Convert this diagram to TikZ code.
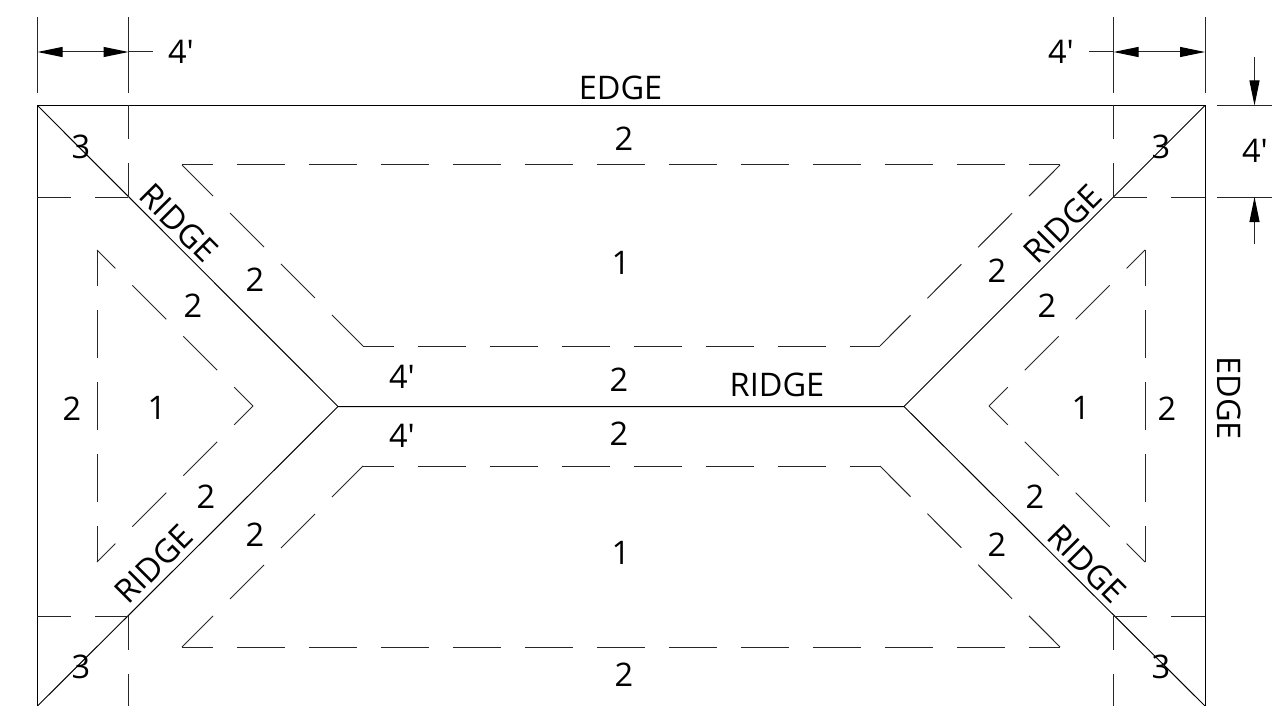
\documentclass[tikz,border=0pt]{standalone}
\usepackage{fontspec}
\newfontfamily\plainsans{Open Sans}
\usetikzlibrary{arrows.meta}
\tikzstyle{edgeline} = [line width=1pt, black]
\tikzset{dashline/.style={line width=1pt, black!85, dash pattern=on 48pt off 24pt, dash phase=#1}}
\tikzstyle{dimline} = [line width=1pt, black!85]
\tikzstyle{dimarrow} = [dimline, {Triangle[length=25pt,width=10pt,black]}-{Triangle[length=25pt,width=10pt,black]}]
\tikzstyle{tailarrow} = [dimline, -{Triangle[length=25pt,width=10pt,black]}]
\tikzstyle{txt} = [inner sep=0pt, font=\plainsans\fontsize{32.5}{36}\selectfont]

\begin{document}
\begin{tikzpicture}[x=1pt, y=-1pt]
    \useasboundingbox (0,0) rectangle (1272,706);
    % Corners of the roof
    \coordinate (tl) at (37.5,105.5);
    \coordinate (tr) at (1205,105.5);
    \coordinate (bl) at (37.5,706);
    \coordinate (br) at (1205,706);
    \coordinate (rl) at (338,406.5);
    \coordinate (rr) at (904,406.5);

    % Solid lines
    \draw [edgeline] (bl) -- (tl) -- (tr) -- (br);
    \draw [edgeline] (tl) -- (rl) -- (rr) -- (tr);
    \draw [edgeline] (bl) -- (rl);
    \draw [edgeline] (br) -- (rr);

    % Dashed offsets, upper and lower
    \draw [dashline=17] (182,165) -- (1060,165);
    \draw [dashline=17] (182,647) -- (1060,647);
    \draw [dashline=17.5] (363,346) -- (880,346);
    \draw [dashline=17.5] (363,466) -- (880,466);
    \draw [dashline=4] (182,165) -- (363,346);
    \draw [dashline=4] (1060,165) -- (880,346);
    \draw [dashline=4] (182,647) -- (363,466);
    \draw [dashline=4] (1060,647) -- (880,466);

    % Dashed offsets, left and right
    \draw [dashline=12] (97,250) -- (97,562);
    \draw [dashline=12] (1145,250) -- (1145,562);
    \draw [dashline=22] (97,250) -- (253,406);
    \draw [dashline=22] (97,562) -- (253,406);
    \draw [dashline=22] (1145,250) -- (989,406);
    \draw [dashline=22] (1145,562) -- (989,406);

    % Dashed corner squares
    \draw [dashline=14] (128.5,105) -- (128.5,197);
    \draw [dashline=14] (1113.5,105) -- (1113.5,197);
    \draw [dashline=14] (128.5,616) -- (128.5,708);
    \draw [dashline=14] (1113.5,616) -- (1113.5,708);
    \draw [dashline=14] (37,197) -- (128,197);
    \draw [dashline=14] (1113,197) -- (1205,197);
    \draw [dashline=14] (37,616) -- (128,616);
    \draw [dashline=14] (1113,616) -- (1205,616);

    % Extension lines
    \draw [dimline] (37.5,17) -- (37.5,93);
    \draw [dimline] (128.5,17) -- (128.5,93);
    \draw [dimline] (1113.5,17) -- (1113.5,93);
    \draw [dimline] (1205,17) -- (1205,93);
    \draw [dimline] (1217,105.5) -- (1272,105.5);
    \draw [dimline] (1217,197) -- (1272,197);

    % Dimension arrows
    \coordinate (dl1) at (37.5,52);
    \coordinate (dl2) at (128.5,52);
    \coordinate (dl3) at (153,52);
    \coordinate (dr1) at (1089,52);
    \coordinate (dr2) at (1113.5,52);
    \coordinate (dr3) at (1205,52);
    \coordinate (dv1) at (1254.5,57);
    \coordinate (dv2) at (1254.5,105.5);
    \coordinate (dv3) at (1254.5,197);
    \coordinate (dv4) at (1254.5,244);
    \draw [dimarrow] (dl1) -- (dl2);
    \draw [dimline] (dl2) -- (dl3);
    \draw [dimline] (dr1) -- (dr2);
    \draw [dimarrow] (dr2) -- (dr3);
    \draw [tailarrow] (dv1) -- (dv2);
    \draw [tailarrow] (dv4) -- (dv3);

    % Labels
    \node (dimA) [txt] at (181,52) {4'};
    \node (dimB) [txt] at (1061,52) {4'};
    \node (dimC) [txt] at (1255,151) {4'};
    \node (dimD) [txt] at (402,377) {4'};
    \node (dimE) [txt] at (402,436) {4'};
    \node (edgeA) [txt] at (620.5,88) {EDGE};
    \node (edgeB) [txt, rotate=-90] at (1229.5,398) {EDGE};
    \node (ridgeA) [txt] at (777,385) {RIDGE};
    \node (ridgeB) [txt, rotate=-45] at (179,223) {RIDGE};
    \node (ridgeC) [txt, rotate=45] at (1063,224) {RIDGE};
    \node (ridgeD) [txt, rotate=45] at (154,564) {RIDGE};
    \node (ridgeE) [txt, rotate=-45] at (1087,564) {RIDGE};
    \node (threeA) [txt] at (81,146.5) {3};
    \node (threeB) [txt] at (1161,146.5) {3};
    \node (threeC) [txt] at (81,666.5) {3};
    \node (threeD) [txt] at (1161,666.5) {3};
    \node (oneA) [txt] at (621,263) {1};
    \node (oneB) [txt] at (621,553) {1};
    \node (oneC) [txt] at (157,408) {1};
    \node (oneD) [txt] at (1081,408) {1};
    \node (twoA) [txt] at (624,139) {2};
    \node (twoB) [txt] at (624,675) {2};
    \node (twoC) [txt] at (619,379.5) {2};
    \node (twoD) [txt] at (619,434) {2};
    \node (twoE) [txt] at (255,279.5) {2};
    \node (twoF) [txt] at (193,306) {2};
    \node (twoG) [txt] at (997,271) {2};
    \node (twoH) [txt] at (1047,306) {2};
    \node (twoI) [txt] at (72,409) {2};
    \node (twoJ) [txt] at (1167,409) {2};
    \node (twoK) [txt] at (206,497) {2};
    \node (twoL) [txt] at (255,535) {2};
    \node (twoM) [txt] at (1035,497) {2};
    \node (twoN) [txt] at (997,545) {2};
\end{tikzpicture}
\end{document}
